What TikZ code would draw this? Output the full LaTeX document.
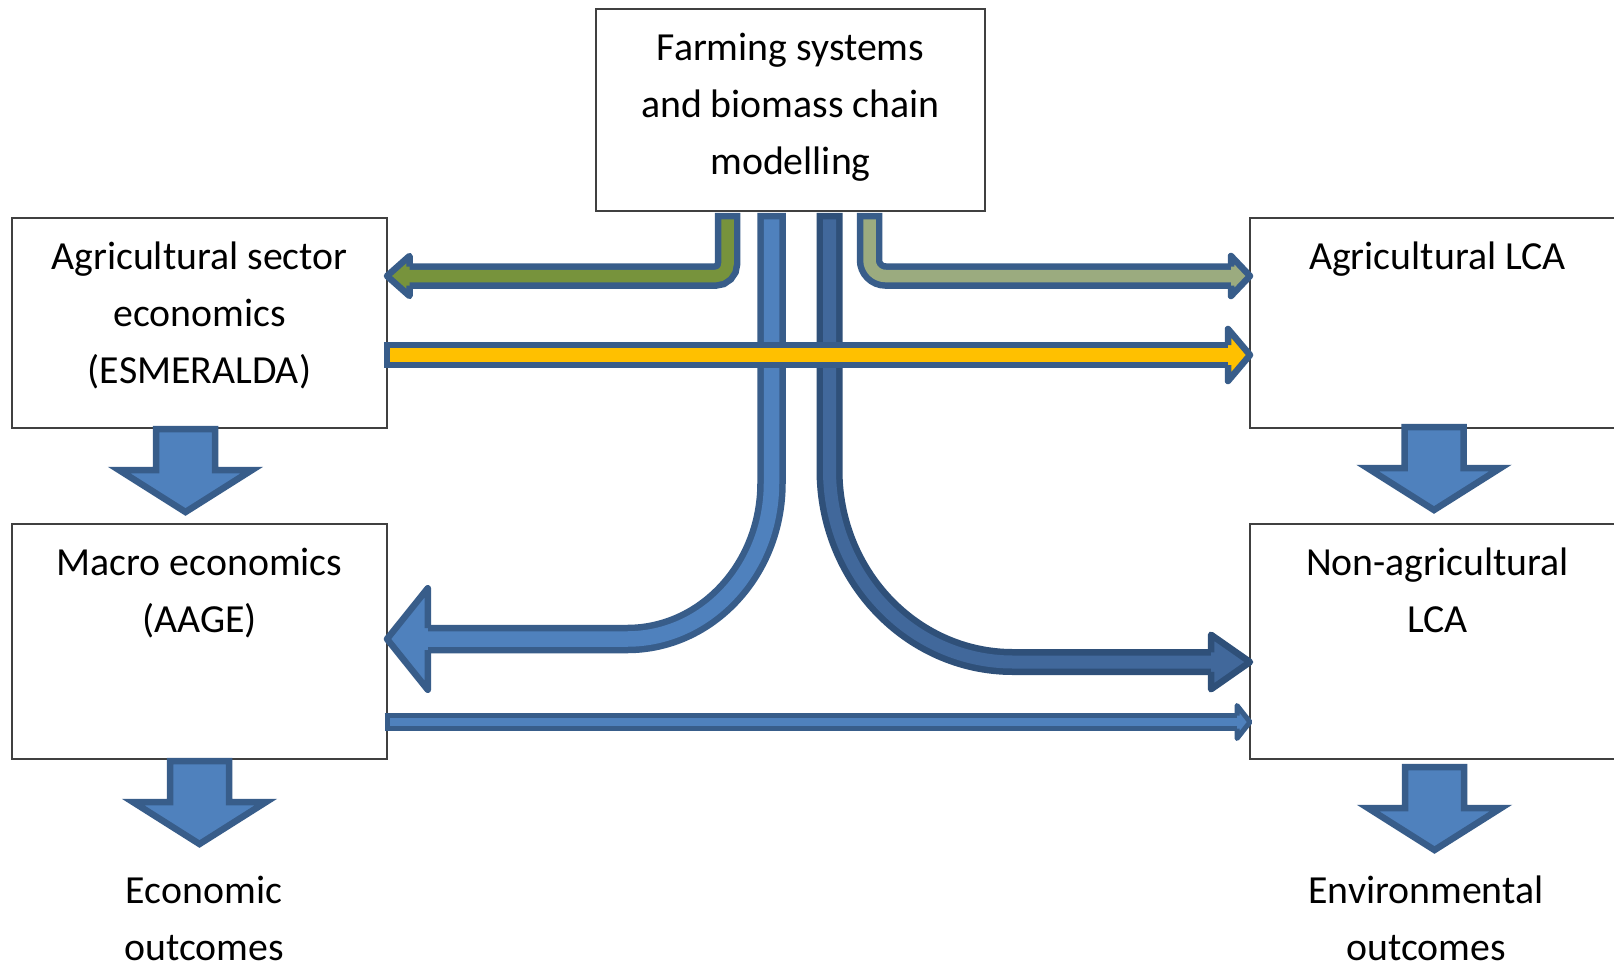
\documentclass[tikz,border=0pt]{standalone}
\usepackage{fontspec}
\setmainfont{Carlito}
\usetikzlibrary{positioning,calc}

\definecolor{rimblue}{HTML}{385D8A}
\definecolor{deeprim}{HTML}{2F5079}
\definecolor{accentblue}{HTML}{4F81BD}
\definecolor{deepblue}{HTML}{41689B}
\definecolor{leaf}{HTML}{77933C}
\definecolor{sage}{HTML}{9BAB7F}
\definecolor{amber}{HTML}{FFC000}
\definecolor{boxline}{HTML}{404040}

\newcommand{\boxfont}{\fontsize{39.8}{57}\selectfont}
\newcommand{\boxlines}[3]{\parbox[t][#1][t]{#2}{\centering\rule{0pt}{51.5pt}#3}}

\tikzset{
  pics/arrowhead/.style n args={3}{code={
    \path[pic actions] (-#1,-#3) -- (-#1,-#2) -- (0,0) -- (-#1,#2) -- (-#1,#3);
  }},
  pics/drop/.style={code={
    \path[pic actions] (-29.5,0) -- (29.5,0) -- (29.5,41) -- (66.5,41) -- (0,83)
      -- (-66.5,41) -- (-29.5,41) -- cycle;
  }},
}

\begin{document}
\begin{tikzpicture}[x=1pt,y=-1pt,
  model/.style={draw=boxline, line width=1.6pt, inner sep=0pt, outer sep=0pt, anchor=north west, font=\boxfont},
  outcome/.style={inner sep=0pt, font=\boxfont},
  headline/.style={draw=rimblue, line width=6.5pt, line join=round},
  blockarrow/.style={fill=accentblue, draw=rimblue, line width=6.5pt, line join=miter},
  pipe/.style n args={3}{draw=#1, line width=#2-6.5pt, shorten <=3.25pt,
    preaction={draw=#3, line width=#2+6.5pt, shorten <=-3.25pt}}]
   \useasboundingbox (0,0) rectangle (1614,970);
   \clip (0,0) rectangle (1614,970);
   \fill[white] (0,0) rectangle (1614,970);

   \node[model] (farm)   at (596,9)  {\boxlines{202pt}{389pt}{Farming systems\\and biomass chain\\modelling}};
   \node[model] (sector) at (12,218) {\boxlines{210pt}{375pt}{Agricultural sector\\economics\\(ESMERALDA)}};
   \node[model] (macro)  [below=96pt of sector]  {\boxlines{235pt}{375pt}{Macro economics\\(AAGE)}};
   \node[model] (aglca)  [right=863pt of sector] {\boxlines{210pt}{375pt}{Agricultural LCA}};
   \node[model] (nonlca) [below=96pt of aglca]   {\boxlines{235pt}{375pt}{Non-agricultural\\LCA}};

   \node[outcome] (econ)  [below=144pt of macro.south, anchor=base, xshift=4.5pt]
     {\parbox[t]{300pt}{\centering Economic\\outcomes}};
   \node[outcome] (envir) [below=144pt of nonlca.south, anchor=base, xshift=-11.5pt]
     {\parbox[t]{300pt}{\centering Environmental\\outcomes}};

   \coordinate (gtop) at ($(farm.south)+(-63,5)$);
   \coordinate (ltop) at ($(farm.south)+(-19,5)$);
   \coordinate (dtop) at ($(farm.south)+(39,5)$);
   \coordinate (stop) at ($(farm.south)+(79,5)$);

   \draw[pipe={accentblue}{22pt}{rimblue}] (ltop) -- (771.5,483)
     .. controls (771.5,569) and (707,639) .. (627,639) -- (424.75,639);
   \pic[rotate=180, headline, fill=accentblue] at (macro.east |- 0,639) {arrowhead={40.75}{50.75}{11}};

   \draw[pipe={deepblue}{19.5pt}{deeprim}] (dtop) -- (829.5,470)
     .. controls (829.5,576) and (911.7,662) .. (1013,662) -- (1214,662);
   \pic[headline, draw=deeprim, fill=deepblue] at (nonlca.west |- 0,662) {arrowhead={39}{27.25}{9.75}};

   \draw[pipe={leaf}{19pt}{rimblue}, rounded corners=12pt] (gtop) |- (406.5,276);
   \pic[rotate=180, headline, fill=leaf] at (sector.east |- 0,276) {arrowhead={22.5}{20}{9.5}};

   \draw[pipe={sage}{19pt}{rimblue}, rounded corners=16pt] (stop) |- (1234,276);
   \pic[headline, fill=sage] at (aglca.west |- 0,276) {arrowhead={19}{20}{9.5}};

   \draw[pipe={amber}{20pt}{rimblue}] (sector.east |- 0,355) -- (1231,355);
   \pic[headline, fill=amber] at (aglca.west |- 0,355) {arrowhead={22}{26}{10}};

   \draw[draw=accentblue, line width=8pt, shorten <=2.5pt,
     preaction={draw=rimblue, line width=18pt, shorten <=-2.5pt}] (macro.east |- 0,722) -- (1240,722);
   \pic[headline, line width=5pt, fill=accentblue] at (nonlca.west |- 0,722) {arrowhead={13}{16.5}{6.5}};

   \pic[blockarrow] at ($(sector.south)+(-14,1)$) {drop};
   \pic[blockarrow] at ($(macro.south)+(0,2)$)    {drop};
   \pic[blockarrow] at ($(aglca.south)+(-3.5,-1)$) {drop};
   \pic[blockarrow] at ($(nonlca.south)+(-3,8)$)  {drop};
\end{tikzpicture}
\end{document}
